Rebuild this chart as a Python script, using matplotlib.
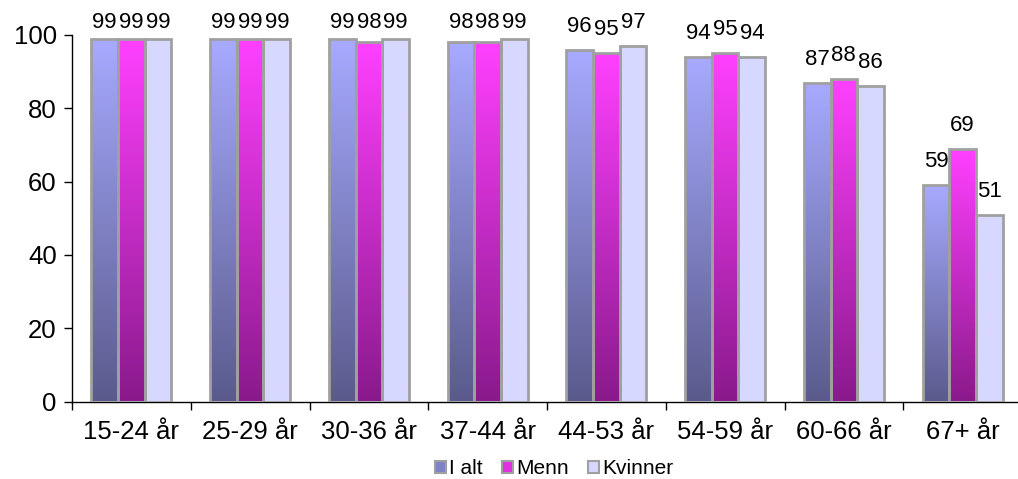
import numpy as np
import matplotlib
matplotlib.use("Agg")
import matplotlib.pyplot as plt
from matplotlib.patches import Patch
from matplotlib.colors import LinearSegmentedColormap

plt.rcParams["font.family"] = ["Liberation Sans", "DejaVu Sans"]

categories = ["15-24 år", "25-29 år", "30-36 år", "37-44 år", "44-53 år", "54-59 år", "60-66 år", "67+ år"]
series_names = ["I alt", "Menn", "Kvinner"]
i_alt = [99, 99, 99, 98, 96, 94, 87, 59]
menn = [99, 99, 98, 98, 95, 95, 88, 69]
kvinner = [99, 99, 99, 99, 97, 94, 86, 51]
yticks = [0, 20, 40, 60, 80, 100]

series = [i_alt, menn, kvinner]
grad = [("#5A5B8C", "#A7AAFF"), ("#8A1A8C", "#FF40FF"), ("#D7D8FF", "#D7D8FF")]
legend_cols = ["#7F82C4", "#E030E0", "#D7D8FF"]
edge = "#A0A0A0"

fig = plt.figure(figsize=(10.18, 4.79), dpi=100)
W, H = 1018, 479
left, right, top, bottom = 72, 1022, 35, 401.5
ax = fig.add_axes([left / W, 1 - bottom / H, (right - left) / W, (bottom - top) / H])

n = len(categories)
bw = 0.225
x = np.arange(n)
offsets = [-bw, 0, bw]
grad_img = np.linspace(0, 1, 256).reshape(-1, 1)

label_gap = 4.9      # data units between bar top and label baseline
label_max = 101.8    # labels are kept inside the chart area

for si, vals in enumerate(series):
    cmap = LinearSegmentedColormap.from_list("g%d" % si, list(grad[si]))
    bars = ax.bar(x + offsets[si], vals, bw, facecolor="none", edgecolor=edge, linewidth=2, zorder=3)
    for b, v in zip(bars, vals):
        x0, y0 = b.get_x(), b.get_y()
        w, h = b.get_width(), b.get_height()
        im = ax.imshow(grad_img, extent=[x0, x0 + w, y0, y0 + h], origin="lower",
                       cmap=cmap, aspect="auto", zorder=2, interpolation="bilinear")
        im.set_clip_path(b)
        ax.text(x0 + w / 2, min(v + label_gap, label_max), str(v),
                ha="center", va="baseline", fontsize=16, clip_on=False)

ax.set_xlim(-0.5, n - 0.5)
ax.set_ylim(0, 100)
ax.set_yticks(yticks)
ax.tick_params(axis="y", labelsize=18.5, length=6, width=1, direction="out", pad=5)
ax.set_xticks(x)
ax.set_xticklabels(categories)
ax.set_xticks(np.arange(n + 1) - 0.5, minor=True)
ax.tick_params(axis="x", which="major", length=0, labelsize=18.5, pad=13)
ax.tick_params(axis="x", which="minor", length=6, width=1, direction="out")
for s in ["top", "right"]:
    ax.spines[s].set_visible(False)
for s in ["left", "bottom"]:
    ax.spines[s].set_linewidth(1)
    ax.spines[s].set_color("black")

handles = [Patch(facecolor=c, edgecolor=edge, linewidth=1.5) for c in legend_cols]
fig.legend(handles, series_names, loc="center", bbox_to_anchor=(554 / W, 1 - 469 / H),
           ncol=3, frameon=False, fontsize=15, handlelength=0.55, handleheight=0.55,
           handletextpad=0.15, columnspacing=0.9)

fig.savefig("out.png", dpi=100)
